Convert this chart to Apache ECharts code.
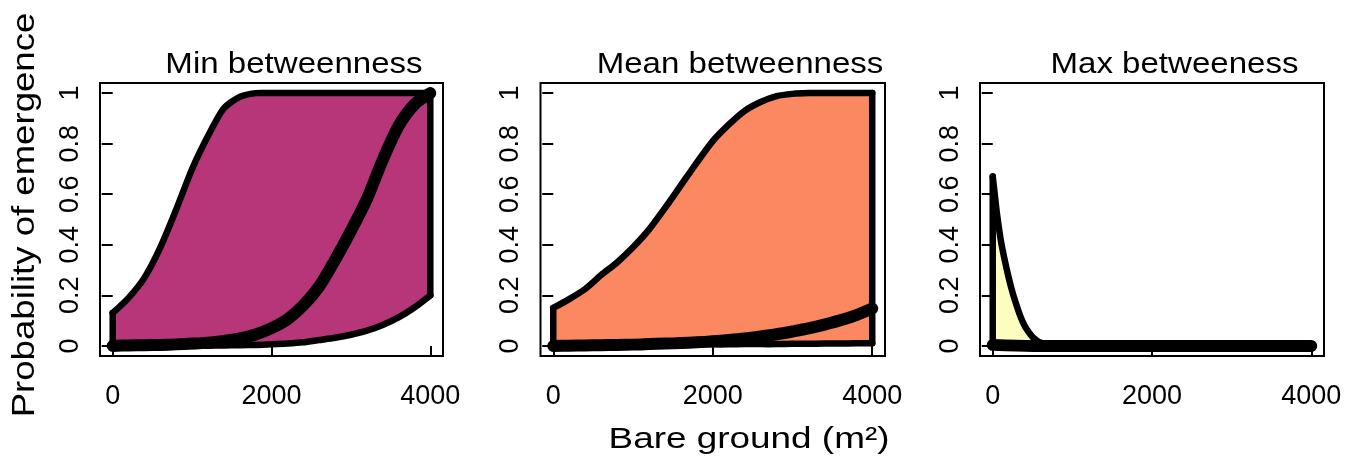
<!DOCTYPE html>
<html><head><meta charset="utf-8">
<script src="https://cdn.jsdelivr.net/npm/echarts@6/dist/echarts.min.js"></script>
<style>html,body{margin:0;padding:0;background:#fff}#c{width:1352px;height:460px}</style>
</head><body><div id="c"></div>
<script>
// ---- data ----
const xTicks = [0, 2000, 4000];
const yTicks = [0, 0.2, 0.4, 0.6, 0.8, 1];
const panelTitles = ['Min betweenness', 'Mean betweenness', 'Max betweeness'];
const xLabel = 'Bare ground (m²)';
const yLabel = 'Probability of emergence';

const gridX = [0,200,400,600,800,1000,1200,1400,1600,1800,2000,2200,2400,2600,2800,3000,3200,3400,3600,3800,4000];

// Min betweenness
const minUpper = [0.13,0.19,0.27,0.39,0.54,0.70,0.83,0.94,0.985,1,1,1,1,1,1,1,1,1,1,1,1];
const minLower = [0,0,0,0,0,0,0.001,0.002,0.003,0.004,0.006,0.009,0.014,0.023,0.032,0.044,0.06,0.083,0.113,0.152,0.2];
const minMean  = [0,0.002,0.003,0.004,0.006,0.009,0.013,0.02,0.03,0.045,0.07,0.105,0.16,0.235,0.34,0.455,0.58,0.735,0.87,0.955,1.0];

// Mean betweenness
const meanUpper = [0.15,0.185,0.225,0.28,0.33,0.39,0.46,0.545,0.635,0.725,0.81,0.875,0.93,0.965,0.988,0.997,1,1,1,1,1];
const meanLower = [0.004,0.004,0.004,0.004,0.004,0.005,0.005,0.005,0.005,0.006,0.006,0.006,0.007,0.007,0.007,0.008,0.008,0.009,0.009,0.01,0.01];
const meanMean  = [0,0.001,0.002,0.003,0.004,0.005,0.007,0.009,0.011,0.014,0.018,0.023,0.029,0.037,0.046,0.057,0.069,0.084,0.101,0.122,0.148];

// Max betweeness
const maxUpperX = [0,25,50,100,150,200,250,300,350,400,450,500,550,600,700,800,1000,2000,3000,4000];
const maxUpper  = [0.67,0.6,0.53,0.42,0.34,0.27,0.21,0.16,0.115,0.08,0.055,0.035,0.022,0.013,0.005,0.001,0,0,0,0];
const maxLowerX = [0,4000];
const maxLower  = [0,0];
const maxMeanX  = [0,500,1000,2000,3000,4000];
const maxMean   = [0.004,0,0,0,0,0];

// ---- layout / style ----
const bandColors = ['#B63679', '#FB8861', '#FCFDBF'];
const boxes = [
  {left:100, top:83, width:343, height:273},
  {left:540.5, top:83, width:344.5, height:273},
  {left:980, top:83, width:344, height:273}
];
const titleCenters = [294, 740, 1174.5];
const OUTLINE_W = 6.5, MEAN_W = 12;

const panels = [
  {ux:gridX, uy:minUpper, lx:gridX, ly:minLower, mx:gridX, my:minMean},
  {ux:gridX, uy:meanUpper, lx:gridX, ly:meanLower, mx:gridX, my:meanMean},
  {ux:maxUpperX, uy:maxUpper, lx:maxLowerX, ly:maxLower, mx:maxMeanX, my:maxMean}
];

function band(p, color){
  return function(params, api){
    const up = p.ux.map((x, k) => api.coord([x, p.uy[k]]));
    const lo = p.lx.map((x, k) => api.coord([x, p.ly[k]]));
    const poly = up.concat(lo.slice().reverse());
    const lineStyle = {fill:'none', stroke:'#000', lineWidth:OUTLINE_W, lineJoin:'round', lineCap:'round'};
    return {type:'group', children:[
      {type:'polygon', shape:{points:poly, smooth:0}, style:{fill:color, stroke:null}},
      {type:'polyline', shape:{points:up, smooth:0.25}, style:lineStyle},
      {type:'polyline', shape:{points:lo, smooth:0.25}, style:lineStyle},
      {type:'polyline', shape:{points:[up[0], lo[0]]}, style:lineStyle},
      {type:'polyline', shape:{points:[up[up.length-1], lo[lo.length-1]]}, style:lineStyle}
    ]};
  };
}

const FONT = '"Liberation Sans", Arial, sans-serif';
const grid = [], xAxis = [], yAxis = [], series = [], graphic = [];
panels.forEach((p, i) => {
  grid.push(Object.assign({show:true, borderColor:'#000', borderWidth:2, backgroundColor:'transparent', containLabel:false}, boxes[i]));
  xAxis.push({gridIndex:i, type:'value', min:-160, max:4160,
    axisLine:{show:false}, splitLine:{show:false},
    axisTick:{show:true, customValues:xTicks, length:11, lineStyle:{color:'#000', width:2}},
    axisLabel:{customValues:xTicks, margin:27, fontSize:27, lineHeight:27, color:'#000', fontFamily:FONT,
      formatter: v => String(Math.round(v))}});
  yAxis.push({gridIndex:i, type:'value', min:-0.04, max:1.04,
    axisLine:{show:false}, splitLine:{show:false},
    axisTick:{show:true, customValues:yTicks, length:11, lineStyle:{color:'#000', width:2}},
    axisLabel:{customValues:yTicks, rotate:90, margin:16, fontSize:27, lineHeight:27, color:'#000', fontFamily:FONT,
      formatter: v => String(+(+v).toFixed(1))}});
  series.push({type:'custom', xAxisIndex:i, yAxisIndex:i, data:[[0,0]], renderItem:band(p, bandColors[i]), z:2, silent:true});
  series.push({type:'line', xAxisIndex:i, yAxisIndex:i, data:p.mx.map((x,k)=>[x, p.my[k]]),
    showSymbol:false, symbol:'none', silent:true, z:3, smooth:0.3,
    lineStyle:{color:'#000', width:MEAN_W, cap:'round', join:'round'}});
  graphic.push({type:'text', x:titleCenters[i], y:65.4, scaleX:1.14,
    style:{text:panelTitles[i], font:'29px ' + FONT, fill:'#000', textAlign:'center', textVerticalAlign:'middle'}});
});
graphic.push({type:'text', x:25.9, y:215, rotation:Math.PI/2, scaleX:1.18,
  style:{text:yLabel, font:'31px ' + FONT, fill:'#000', textAlign:'center', textVerticalAlign:'middle'}});
graphic.push({type:'text', x:749, y:439.7, scaleX:1.23,
  style:{text:xLabel, font:'30px ' + FONT, fill:'#000', textAlign:'center', textVerticalAlign:'middle'}});

const chart = echarts.init(document.getElementById('c'), null, {renderer:'canvas'});
chart.setOption({animation:false, backgroundColor:'#fff', grid, xAxis, yAxis, series, graphic});
</script></body></html>
